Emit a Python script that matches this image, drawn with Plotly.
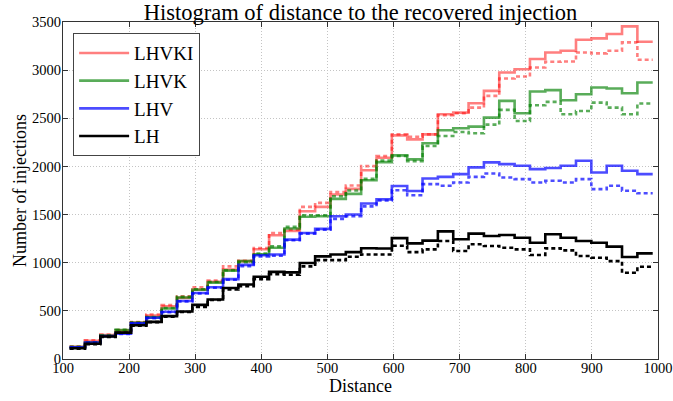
import numpy as np
import plotly.graph_objects as go

# Histogram bin edges (distance)
bin_edges = np.linspace(110, 992, 39)

# Counts per bin: solid = full sample, dotted = second (dotted) curve
lhvki_solid = [128, 190, 250, 295, 378, 450, 548, 635, 722, 802, 930, 1016, 1140, 1286, 1330, 1535, 1580, 1708, 1767, 1960,
               2090, 2323, 2281, 2333, 2542, 2559, 2656, 2785, 2976, 3010, 3115, 3184, 3201, 3316, 3330, 3375, 3455, 3295]
lhvki_dotted = [130, 195, 255, 300, 385, 462, 560, 650, 745, 815, 962, 1021, 1153, 1309, 1344, 1580, 1621, 1733, 1802, 2003,
                2108, 2333, 2309, 2333, 2531, 2552, 2611, 2733, 2913, 2934, 3028, 3087, 3090, 3184, 3174, 3201, 3288, 3108]
lhvk_solid = [125, 172, 242, 300, 375, 432, 525, 639, 719, 793, 918, 1016, 1088, 1156, 1355, 1478, 1483, 1663, 1715, 1856,
              2045, 2115, 2073, 2240, 2375, 2396, 2413, 2507, 2681, 2552, 2778, 2792, 2688, 2750, 2819, 2809, 2760, 2871]
lhvk_dotted = [126, 174, 245, 303, 378, 436, 530, 645, 725, 800, 922, 1005, 1094, 1170, 1372, 1493, 1493, 1691, 1750, 1871,
               2060, 2108, 2055, 2212, 2316, 2358, 2344, 2434, 2587, 2472, 2635, 2670, 2542, 2576, 2663, 2611, 2542, 2653]
lhv_solid = [122, 170, 238, 262, 370, 428, 490, 603, 686, 745, 830, 978, 1078, 1086, 1240, 1309, 1351, 1483, 1500, 1615,
             1658, 1797, 1745, 1875, 1892, 1920, 1990, 2042, 2024, 2007, 1972, 1983, 2007, 2059, 1937, 2007, 1955, 1920]
lhv_dotted = [120, 168, 236, 260, 368, 425, 486, 598, 680, 740, 823, 965, 1066, 1073, 1233, 1302, 1344, 1455, 1483, 1585,
              1646, 1753, 1701, 1816, 1799, 1833, 1892, 1927, 1885, 1868, 1833, 1851, 1833, 1868, 1764, 1799, 1747, 1722]
lh_solid = [111, 158, 233, 274, 350, 386, 445, 493, 562, 618, 738, 774, 855, 905, 900, 997, 1066, 1086, 1110, 1151,
            1148, 1255, 1201, 1229, 1326, 1243, 1302, 1278, 1288, 1260, 1208, 1295, 1260, 1226, 1208, 1167, 1059, 1097]
lh_dotted = [108, 155, 230, 272, 345, 383, 440, 488, 540, 612, 722, 756, 830, 880, 875, 962, 1027, 1027, 1062, 1085,
             1085, 1176, 1110, 1139, 1226, 1122, 1191, 1174, 1156, 1139, 1080, 1149, 1128, 1069, 1052, 1017, 896, 958]

series = [
    ("LHVKI", lhvki_solid, lhvki_dotted, "rgba(255,0,0,0.5)"),
    ("LHVK", lhvk_solid, lhvk_dotted, "rgba(0,128,0,0.65)"),
    ("LHV", lhv_solid, lhv_dotted, "rgba(0,0,255,0.7)"),
    ("LH", lh_solid, lh_dotted, "rgba(0,0,0,1)"),
]

x_ticks = [100, 200, 300, 400, 500, 600, 700, 800, 900, 1000]
y_ticks = [0, 500, 1000, 1500, 2000, 2500, 3000, 3500]

FONT = "Liberation Serif"

fig = go.Figure()
for name, solid, dotted, color in series:
    fig.add_trace(go.Scatter(
        x=bin_edges, y=list(solid) + [solid[-1]], mode="lines", name=name,
        line=dict(color=color, width=2.6, shape="hv"), showlegend=True))
    fig.add_trace(go.Scatter(
        x=bin_edges, y=list(dotted) + [dotted[-1]], mode="lines", name=name + " (dotted)",
        line=dict(color=color, width=2.6, shape="hv", dash="4px,3px"), showlegend=False))

axis_common = dict(
    showline=True, linecolor="#333", linewidth=1, mirror="ticks",
    ticks="inside", ticklen=5, tickcolor="#333",
    showgrid=True, gridcolor="#c4c4c4", griddash="1px,2px", gridwidth=1,
    zeroline=False, automargin=False, ticklabeloverflow="allow",
    tickfont=dict(family=FONT, size=14.5, color="black"),
)

fig.update_layout(
    width=673, height=401,
    margin=dict(l=63, r=15, t=22, b=42),
    paper_bgcolor="white", plot_bgcolor="white",
    title=dict(text="Histogram of distance to the recovered injection",
               font=dict(family=FONT, size=22.5, color="black"),
               x=0.5, xref="paper", xanchor="center",
               y=1 - 12 / 401, yref="container", yanchor="middle"),
    xaxis=dict(range=[100, 1000], tickvals=x_ticks, ticklabelstandoff=-4,
               title=dict(text="Distance", font=dict(family=FONT, size=18, color="black"), standoff=0),
               **axis_common),
    yaxis=dict(range=[0, 3500], tickvals=y_ticks, ticklabelstandoff=-2,
               title=dict(text="Number of injections", font=dict(family=FONT, size=18, color="black"), standoff=0),
               **axis_common),
    legend=dict(x=0.017, y=0.967, xanchor="left", yanchor="top",
                bgcolor="white", bordercolor="#444", borderwidth=1,
                font=dict(family=FONT, size=19, color="black"),
                itemwidth=50, tracegroupgap=0),
    showlegend=True,
)

fig.write_html("out.html", config={"displayModeBar": False},
               post_script="document.body.style.margin='0';document.body.style.padding='0';")
